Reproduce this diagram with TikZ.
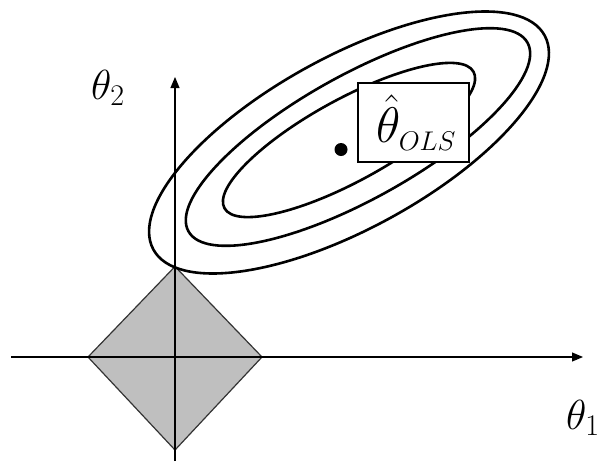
\RequirePackage{fix-cm}
\documentclass[tikz,border=0pt]{standalone}
\usetikzlibrary{arrows.meta}
\begin{document}
\begin{tikzpicture}[x=1pt,y=-1pt,
  axis/.style={line width=1.1pt,-{Triangle[length=11pt,width=9pt]}},
  contour/.style={line width=2.6pt},
  lbl/.style={inner sep=0pt,font=\fontsize{42}{50}\selectfont},
  olsbox/.style={draw,fill=white,line width=1.6pt,minimum width=111pt,minimum height=79pt,inner sep=0pt,font=\fontsize{50}{60}\selectfont}]
\useasboundingbox (0,0) rectangle (609,461);
% diamond constraint region
\coordinate (dl) at (88,357);
\coordinate (dt) at (175,266.5);
\coordinate (dr) at (262,357);
\coordinate (db) at (175,450);
\draw[fill=black!25,draw=black!80,line width=1.2pt,line join=miter] (dl) -- (dt) -- (dr) -- (db) -- cycle;
% axes
\coordinate (xs) at (11,357);
\coordinate (xe) at (583,357);
\coordinate (ys) at (175,461);
\coordinate (ye) at (175,77);
\draw[axis] (xs) -- (xe);
\draw[axis] (ys) -- (ye);
% contours
\coordinate (c1) at (349,142.5);
\coordinate (c2) at (358,137);
\coordinate (c3) at (349,140);
\draw[contour,rotate around={28.7:(c1)}] (c1) ellipse [x radius=223pt,y radius=86pt];
\draw[contour,rotate around={29.1:(c2)}] (c2) ellipse [x radius=194pt,y radius=62pt];
\draw[contour,rotate around={28.7:(c3)}] (c3) ellipse [x radius=142pt,y radius=41pt];
% OLS point and label
\fill (341,149.5) circle [radius=6.5pt];
\node[olsbox] (ols) at (413.5,122.5)
  {\makebox[111pt][l]{\hspace{18pt}\raisebox{-3pt}{$\hat{\theta}_{\mbox{\fontsize{27}{32}\selectfont$OLS$}}$}}};
% axis labels
\node[lbl,anchor=base west] (t2) at (91,99) {$\theta_{\mbox{\fontsize{30}{36}\selectfont 2}}$};
\node[lbl,anchor=base west] (t1) at (566,429) {$\theta_{\mbox{\fontsize{30}{36}\selectfont 1}}$};
\end{tikzpicture}
\end{document}
